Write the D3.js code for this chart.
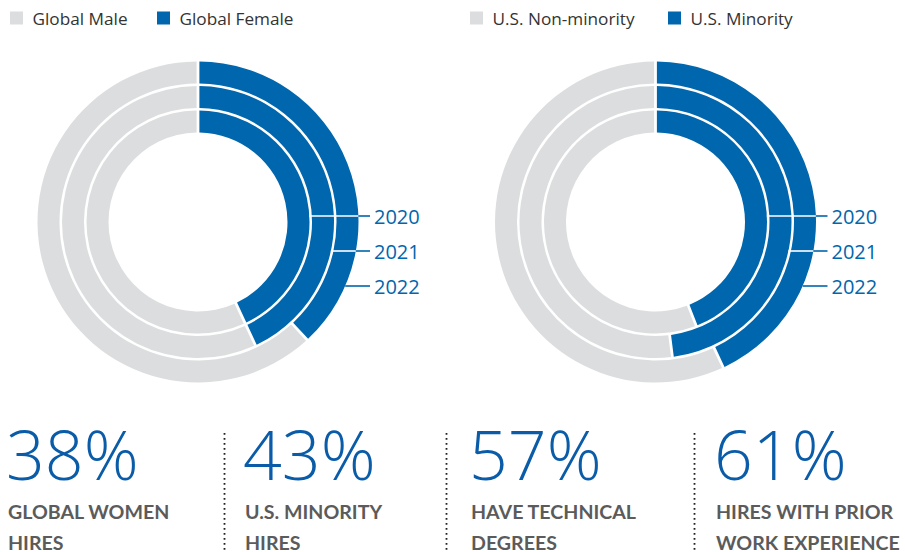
<!DOCTYPE html>
<html>
<head>
<meta charset="utf-8">
<script src="https://cdn.jsdelivr.net/npm/d3@7"></script>
<style>
  body { margin: 0; background: #fff; }
  svg { display: block; }
  .legend text { font-family: "Open Sans", sans-serif; font-size: 17.2px; fill: #333; }
  .year { font-family: "Open Sans", sans-serif; font-size: 20px; fill: #0066ad; }
  .big { font-family: "Open Sans", sans-serif; font-weight: 300; font-size: 68px; fill: #0a5ca8; }
  .caption { font-family: Lato, sans-serif; font-weight: 700; font-size: 19.6px; fill: #5b5b5b; }
</style>
</head>
<body>
<svg id="chart" width="905" height="552"></svg>
<script>
// data
const years = ["2020", "2021", "2022"];
const femaleShare = [43, 43, 38];      // global female hires, % per year
const minorityShare = [44, 48, 43];    // U.S. minority hires, % per year
const genderLegend = ["Global Male", "Global Female"];
const minorityLegend = ["U.S. Non-minority", "U.S. Minority"];
const statValues = ["38%", "43%", "57%", "61%"];
const statCaptions = [
    ["GLOBAL WOMEN", "HIRES"],
    ["U.S. MINORITY", "HIRES"],
    ["HAVE TECHNICAL", "DEGREES"],
    ["HIRES WITH PRIOR", "WORK EXPERIENCE"]
];

const BLUE = "#0066ad";
const GREY = "#dcddde";

const svg = d3.select("#chart");

// ring radius per year: 2020 inside, 2022 outside
const ring = d3.scaleBand().domain(years).range([89.5, 160.5]).paddingInner(2.5 / 24.5);
// leader line heights (offset from centre)
const labelY = d3.scalePoint().domain(years).range([-6, 64]);

const pie = d3.pie().sort(null).value(d => d).padAngle(0.028);

function drawDonut(cx, cy, shares, legend, legendX) {
    const g = svg.append("g").attr("transform", `translate(${cx},${cy})`);
    const outerR = ring.range()[1];

    years.forEach((yr, i) => {
        const arc = d3.arc()
            .innerRadius(ring(yr))
            .outerRadius(ring(yr) + ring.bandwidth())
            .padRadius(100);
        g.selectAll(null)
            .data(pie([shares[i], 100 - shares[i]]))
            .enter()
            .append("path")
            .attr("d", arc)
            .attr("fill", (d, j) => j === 0 ? BLUE : GREY);
    });

    // leader lines + year labels
    years.forEach(yr => {
        const y = labelY(yr);
        const r0 = ring(yr) + ring.bandwidth();
        const x0 = Math.sqrt(r0 * r0 - y * y);
        const x1 = Math.sqrt(outerR * outerR - y * y);
        if (x1 - x0 > 0.5) {
            g.append("line")
                .attr("x1", x0).attr("x2", x1).attr("y1", y).attr("y2", y)
                .attr("stroke", "#fff").attr("stroke-width", 1.6);
        }
        g.append("line")
            .attr("x1", x1).attr("x2", 172).attr("y1", y).attr("y2", y)
            .attr("stroke", BLUE).attr("stroke-width", 1.6);
        g.append("text")
            .attr("class", "year")
            .attr("x", 176).attr("y", y + 7.5)
            .text(yr);
    });

    // legend
    const lg = svg.append("g").attr("class", "legend").attr("transform", `translate(${legendX},0)`);
    const offsets = [0, legend[0].length > 12 ? 198 : 147];
    legend.forEach((name, j) => {
        lg.append("rect")
            .attr("x", offsets[j]).attr("y", 11.5)
            .attr("width", 13).attr("height", 13)
            .attr("fill", j === 0 ? GREY : BLUE);
        lg.append("text")
            .attr("x", offsets[j] + 22.5).attr("y", 25)
            .text(name);
    });
}

drawDonut(198, 222, femaleShare, genderLegend, 10);
drawDonut(655.5, 222, minorityShare, minorityLegend, 470);

// stats row
const statX = [8, 245, 471, 716];
const sepX = [224.5, 446.5, 694.5];

statValues.forEach((v, i) => {
    svg.append("text").attr("class", "big")
        .attr("x", statX[i] - 2).attr("y", 480)
        .text(v);
    statCaptions[i].forEach((line, k) => {
        svg.append("text").attr("class", "caption")
            .attr("x", statX[i]).attr("y", 518.5 + k * 31)
            .text(line);
    });
});

svg.selectAll(".sep")
    .data(sepX)
    .enter()
    .append("line")
    .attr("class", "sep")
    .attr("x1", d => d).attr("x2", d => d)
    .attr("y1", 433).attr("y2", 552)
    .attr("stroke", "#222")
    .attr("stroke-width", 1.8)
    .attr("stroke-dasharray", "1.8,3.2");
</script>
</body>
</html>
